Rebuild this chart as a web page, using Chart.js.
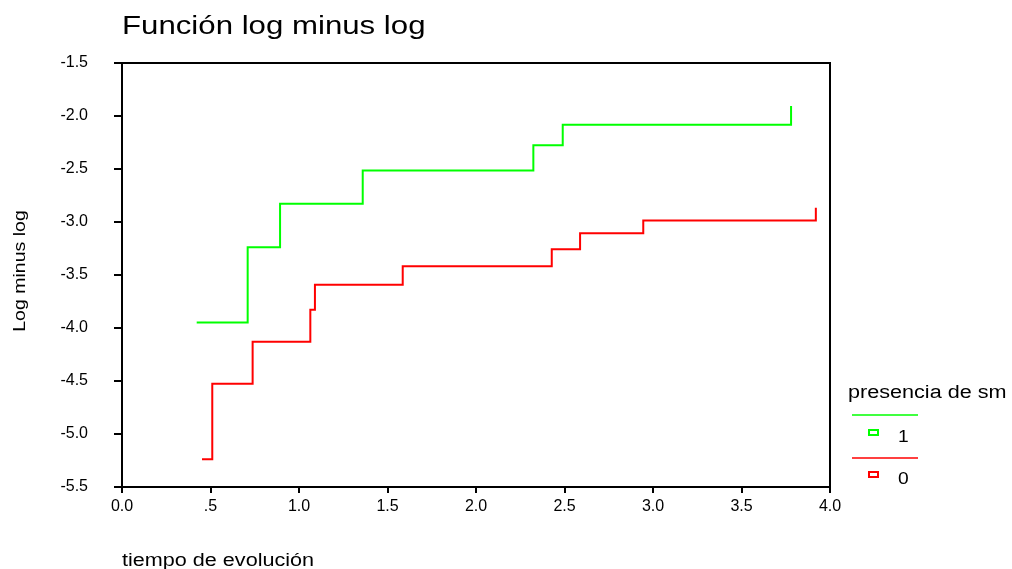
<!DOCTYPE html>
<html>
<head>
<meta charset="utf-8">
<script src="https://cdn.jsdelivr.net/npm/chart.js@4/dist/chart.umd.min.js"></script>
<style>
  html, body { margin: 0; padding: 0; background: #fff; }
  #wrap { width: 1012px; height: 569px; position: relative; }
</style>
</head>
<body>
<div id="wrap"><canvas id="c" width="1012" height="569"></canvas></div>
<script>
// Log minus log survival estimates, by group (presencia de sm)
const groupLabels = ['1', '0'];
const times1 = [0.422, 0.71, 0.893, 1.36, 2.324, 2.49, 3.78];
const lml1   = [-3.949, -3.238, -2.827, -2.514, -2.277, -2.082, -1.905];
const times0 = [0.452, 0.51, 0.738, 1.064, 1.09, 1.586, 2.428, 2.588, 2.945, 3.92];
const lml0   = [-5.238, -4.527, -4.129, -3.829, -3.592, -3.418, -3.257, -3.105, -2.986, -2.865];

const xTickValues = [0, 0.5, 1, 1.5, 2, 2.5, 3, 3.5, 4];
const xTickLabels = ['0.0', '.5', '1.0', '1.5', '2.0', '2.5', '3.0', '3.5', '4.0'];
const yTickValues = [-5.5, -5, -4.5, -4, -3.5, -3, -2.5, -2, -1.5];
const yTickLabels = ['-5.5', '-5.0', '-4.5', '-4.0', '-3.5', '-3.0', '-2.5', '-2.0', '-1.5'];

const titleText = 'Función log minus log';
const xTitle = 'tiempo de evolución';
const yTitle = 'Log minus log';
const legendTitle = 'presencia de sm';

const FONT = '"Liberation Sans", Arial, Helvetica, sans-serif';

function toPoints(xs, ys) {
  return xs.map((x, i) => ({ x: x, y: ys[i] }));
}

function textAt(ctx, text, x, y, size, opts) {
  const o = opts || {};
  ctx.save();
  ctx.translate(x, y);
  if (o.rotate) ctx.rotate(o.rotate);
  ctx.scale(o.sx || 1, 1);
  ctx.font = size + 'px ' + FONT;
  ctx.fillStyle = '#000';
  ctx.textAlign = o.align || 'left';
  ctx.textBaseline = o.baseline || 'alphabetic';
  ctx.fillText(text, 0, 0);
  ctx.restore();
}

// frame, titles and legend block
const decorations = {
  id: 'decorations',
  afterDraw(chart) {
    const ctx = chart.ctx;
    const a = chart.chartArea;
    ctx.save();
    ctx.strokeStyle = '#000';
    ctx.lineWidth = 2;
    ctx.strokeRect(a.left, a.top, a.right - a.left, a.bottom - a.top);
    ctx.restore();

    textAt(ctx, titleText, a.left, 34, 26, { sx: 1.2 });
    textAt(ctx, xTitle, a.left, 566, 18, { sx: 1.2 });
    textAt(ctx, yTitle, 20, 271, 17, { rotate: -Math.PI / 2, sx: 1.15, align: 'center', baseline: 'middle' });

    // legend
    textAt(ctx, legendTitle, 848, 398, 18, { sx: 1.2 });
    const rows = [
      { lineY: 415, boxY: 430, textY: 442 },
      { lineY: 458, boxY: 472, textY: 484 }
    ];
    chart.data.datasets.forEach((ds, i) => {
      const r = rows[i];
      ctx.save();
      ctx.strokeStyle = ds.borderColor;
      ctx.lineWidth = 1.5;
      ctx.beginPath();
      ctx.moveTo(852, r.lineY);
      ctx.lineTo(918, r.lineY);
      ctx.stroke();
      ctx.lineWidth = 2;
      ctx.strokeRect(869, r.boxY, 9, 5);
      ctx.restore();
      textAt(ctx, ds.label, 898, r.textY, 16, { sx: 1.2 });
    });
  }
};

new Chart(document.getElementById('c'), {
  type: 'scatter',
  data: {
    datasets: [
      {
        label: groupLabels[0],
        data: toPoints(times1, lml1),
        showLine: true,
        stepped: 'before',
        borderColor: '#00ff00',
        backgroundColor: '#00ff00',
        borderWidth: 2,
        pointRadius: 0,
        fill: false
      },
      {
        label: groupLabels[1],
        data: toPoints(times0, lml0),
        showLine: true,
        stepped: 'before',
        borderColor: '#ff0000',
        backgroundColor: '#ff0000',
        borderWidth: 2,
        pointRadius: 0,
        fill: false
      }
    ]
  },
  options: {
    responsive: false,
    animation: false,
    devicePixelRatio: 1,
    layout: { padding: { top: 63, right: 182, left: 0, bottom: 0 } },
    plugins: {
      legend: { display: false },
      title: { display: false },
      tooltip: { enabled: false }
    },
    scales: {
      x: {
        type: 'linear',
        min: 0,
        max: 4,
        afterBuildTicks(scale) { scale.ticks = xTickValues.map(v => ({ value: v })); },
        afterFit(scale) { scale.height = 82; },
        ticks: {
          color: '#000',
          font: { family: FONT, size: 16 },
          padding: 4,
          maxRotation: 0,
          autoSkip: false,
          callback(value) {
            const i = xTickValues.indexOf(value);
            return i >= 0 ? xTickLabels[i] : '';
          }
        },
        grid: { drawOnChartArea: false, drawTicks: true, tickLength: 6, color: '#000', lineWidth: 2 },
        border: { display: true, color: '#000', width: 2 }
      },
      y: {
        type: 'linear',
        min: -5.5,
        max: -1.5,
        afterBuildTicks(scale) { scale.ticks = yTickValues.map(v => ({ value: v })); },
        afterFit(scale) { scale.width = 122; },
        ticks: {
          color: '#000',
          font: { family: FONT, size: 16 },
          padding: 26,
          autoSkip: false,
          callback(value) {
            const i = yTickValues.indexOf(value);
            return i >= 0 ? yTickLabels[i] : '';
          }
        },
        grid: { drawOnChartArea: false, drawTicks: true, tickLength: 8, color: '#000', lineWidth: 2 },
        border: { display: true, color: '#000', width: 2 }
      }
    }
  },
  plugins: [decorations]
});
</script>
</body>
</html>
